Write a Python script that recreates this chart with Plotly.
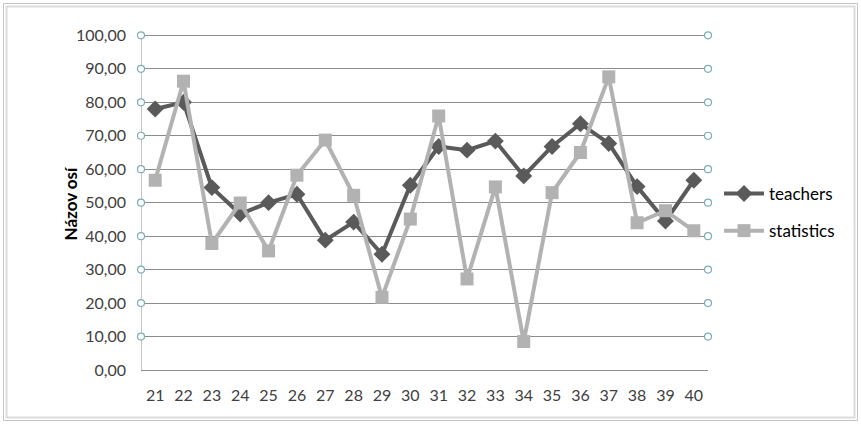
import plotly.graph_objects as go

categories = list(range(21, 41))
teachers = [78.0, 80.0, 54.5, 46.6, 50.0, 52.5, 38.8, 44.2, 34.6, 55.2,
            66.8, 65.7, 68.4, 58.0, 66.8, 73.6, 67.7, 54.8, 44.5, 56.7]
statistics = [56.7, 86.3, 37.8, 49.9, 35.6, 58.2, 68.7, 52.2, 21.7, 45.1,
              75.9, 27.2, 54.7, 8.5, 53.0, 65.0, 87.6, 44.0, 47.6, 41.6]
grid_values = [10, 20, 30, 40, 50, 60, 70, 80, 90, 100]
y_title = "Názov osí"

W, H = 861, 424
L, R, T, B = 141, 153, 32, 54
pw, ph = W - L - R, H - T - B
YMAX = 101

def px(x):
    return (x - L) / pw

def py(y):
    return (H - B - y) / ph

FONT = "Lato, 'Open Sans', sans-serif"

fig = go.Figure()

# gridline end markers
fig.add_trace(go.Scatter(
    x=[20.5] * len(grid_values) + [40.5] * len(grid_values),
    y=grid_values + grid_values,
    mode="markers",
    marker=dict(symbol="circle", size=7, color="white",
                line=dict(color="#7aaeb8", width=1.2)),
    cliponaxis=False, showlegend=False, hoverinfo="skip"))

fig.add_trace(go.Scatter(
    x=categories, y=teachers, name="teachers", mode="lines+markers",
    legendgroup="t",
    line=dict(color="#5a5a5a", width=4),
    marker=dict(symbol="diamond", size=13, color="#5a5a5a"),
    cliponaxis=False))

fig.add_trace(go.Scatter(
    x=categories, y=statistics, name="statistics", mode="lines+markers",
    legendgroup="s",
    line=dict(color="#b2b2b2", width=4),
    marker=dict(symbol="square", size=13, color="#b2b2b2"),
    cliponaxis=False))

fig.update_xaxes(
    range=[20.5, 40.5], tickmode="array", tickvals=categories,
    ticktext=[str(c) for c in categories],
    showgrid=False, zeroline=False, showline=True, linecolor="#8c8c8c",
    linewidth=1, ticks="", ticklabelstandoff=11,
    tickfont=dict(family=FONT, size=16, color="#404040"))
fig.update_yaxes(
    range=[0, YMAX], tickmode="array", tickvals=[0] + grid_values,
    tickformat=".2f", showgrid=True, gridcolor="#8c8c8c", gridwidth=1,
    zeroline=False, showline=False,
    ticks="", ticklabelstandoff=14,
    tickfont=dict(family=FONT, size=16, color="#404040"))

fig.add_annotation(
    text=f"<b>{y_title}</b>", xref="paper", yref="paper",
    x=px(57), y=py(203), textangle=-90, showarrow=False,
    font=dict(family=FONT, size=17, color="#000000"))

shapes = [
    dict(type="rect", xref="paper", yref="paper",
         x0=px(3.5), x1=px(857.5), y0=py(420.5), y1=py(3.5),
         line=dict(color="#c4c4c4", width=1), layer="below"),
    dict(type="rect", xref="paper", yref="paper",
         x0=px(6.5), x1=px(854.5), y0=py(417.5), y1=py(6.5),
         line=dict(color="#dcdcdc", width=2), layer="below"),
    # left value axis line from 0 to 100
    dict(type="line", xref="x", yref="y", x0=20.5, x1=20.5, y0=0, y1=100,
         line=dict(color="#8c8c8c", width=1), layer="below"),
]
fig.update_layout(shapes=shapes)

fig.update_layout(
    width=W, height=H, margin=dict(l=L, r=R, t=T, b=B),
    paper_bgcolor="white", plot_bgcolor="white",
    separators=", ",
    showlegend=True,
    legend=dict(x=px(719), y=py(176), xanchor="left", yanchor="top",
                font=dict(family=FONT, size=17, color="#000000"),
                bgcolor="rgba(0,0,0,0)", tracegroupgap=12, itemwidth=40),
    font=dict(family=FONT),
)

fig.write_html("out.html")
